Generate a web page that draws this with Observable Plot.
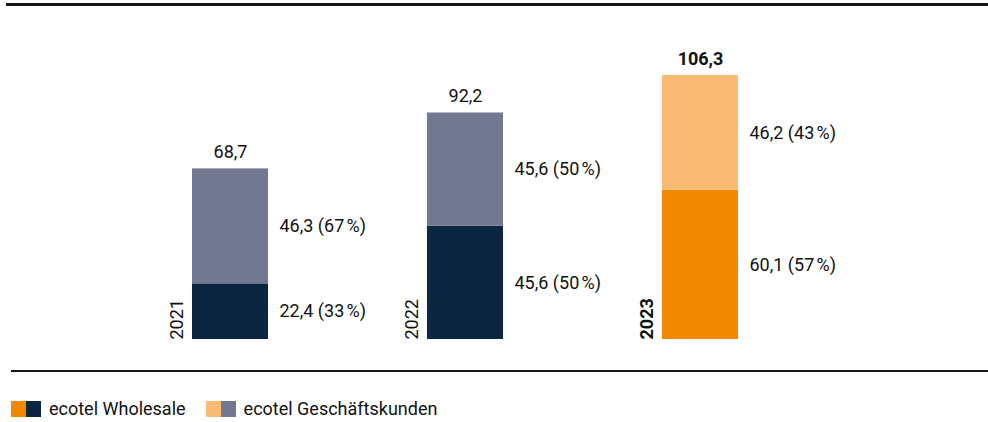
<!DOCTYPE html>
<html>
<head>
<meta charset="utf-8">
<script src="https://cdn.jsdelivr.net/npm/d3@7"></script>
<script src="https://cdn.jsdelivr.net/npm/@observablehq/plot@0.6"></script>
<style>
  html, body { margin: 0; padding: 0; background: #fff; }
  body { width: 988px; height: 422px; position: relative; overflow: hidden; font-family: Roboto, "Liberation Sans", sans-serif; color: #111; }
  #chart { position: absolute; left: 0; top: 0; }
  .rule { position: absolute; right: 0; background: #161616; }
  #legend { position: absolute; left: 11px; top: 401px; display: flex; align-items: center; font-size: 18px; }
  .sw { width: 15px; height: 16px; display: inline-block; }
  .item { display: flex; align-items: center; margin-right: 20px; }
  .item span.lbl { margin-left: 8px; line-height: 16px; }
</style>
</head>
<body>
<div id="chart"></div>
<div class="rule" style="left:6px; top:3px; height:3px;"></div>
<div class="rule" style="left:11px; top:370px; height:2px;"></div>
<div id="legend"></div>
<script>
// ---- data ----
const years = ["2021", "2022", "2023"];
const segments = ["ecotel Wholesale", "ecotel Geschäftskunden"];
const wholesale = [22.4, 45.6, 60.1];
const wholesalePct = [33, 50, 57];
const business = [46.3, 45.6, 46.2];
const businessPct = [67, 50, 43];
const totals = [68.7, 92.2, 106.3];
const highlightYear = "2023";

// colours: [normal, highlight]
const palette = {
  "ecotel Wholesale": ["#0b2641", "#f08800"],
  "ecotel Geschäftskunden": ["#737891", "#f9bb73"]
};

const fmt = v => v.toFixed(1).replace(".", ",");

const rows = [];
years.forEach((y, i) => {
  rows.push({year: y, segment: segments[0], value: wholesale[i], pct: wholesalePct[i]});
  rows.push({year: y, segment: segments[1], value: business[i], pct: businessPct[i]});
});
const colorOf = d => palette[d.segment][d.year === highlightYear ? 1 : 0];

const chart = Plot.plot({
  width: 988,
  height: 370,
  marginTop: 75,
  marginBottom: 31,
  marginLeft: 0,
  marginRight: 0,
  style: {fontFamily: "Roboto, 'Liberation Sans', sans-serif", fontSize: "18px", color: "#111", background: "transparent"},
  x: {domain: years, range: [192, 738], paddingInner: 0.6766, paddingOuter: 0, axis: null},
  y: {domain: [0, 106.3], axis: null},
  marks: [
    Plot.barY(rows, {x: "year", y: "value", fill: colorOf}),
    Plot.text(rows, Plot.stackY({
      x: "year", y: "value",
      text: d => `${fmt(d.value)} (${d.pct}\u202F%)`,
      textAnchor: "start", lineAnchor: "middle", dx: 49, fontSize: 18, fill: "#111"
    })),
    Plot.text(years, {
      x: d => d, y: (d, i) => wholesale[i] + business[i],
      text: (d, i) => fmt(totals[i]),
      lineAnchor: "bottom", dy: -11, fontSize: 18, fill: "#111",
      fontWeight: "normal",
      filter: d => d !== highlightYear
    }),
    Plot.text(years, {
      x: d => d, y: (d, i) => wholesale[i] + business[i],
      text: (d, i) => fmt(totals[i]),
      lineAnchor: "bottom", dy: -11, fontSize: 18, fill: "#111",
      fontWeight: "bold",
      filter: d => d === highlightYear
    }),
    Plot.text(years, {
      x: d => d, y: 0, text: d => d, rotate: -90,
      textAnchor: "start", lineAnchor: "middle", dx: -53, fontSize: 18, fill: "#111",
      filter: d => d !== highlightYear
    }),
    Plot.text(years, {
      x: d => d, y: 0, text: d => d, rotate: -90,
      textAnchor: "start", lineAnchor: "middle", dx: -53, fontSize: 18, fill: "#111",
      fontWeight: "bold",
      filter: d => d === highlightYear
    })
  ]
});
document.getElementById("chart").appendChild(chart);

// legend
const legend = document.getElementById("legend");
segments.forEach(s => {
  const item = document.createElement("div");
  item.className = "item";
  const [normal, hi] = palette[s];
  item.innerHTML = `<span class="sw" style="background:${hi}"></span><span class="sw" style="background:${normal}"></span><span class="lbl">${s}</span>`;
  legend.appendChild(item);
});
</script>
</body>
</html>
